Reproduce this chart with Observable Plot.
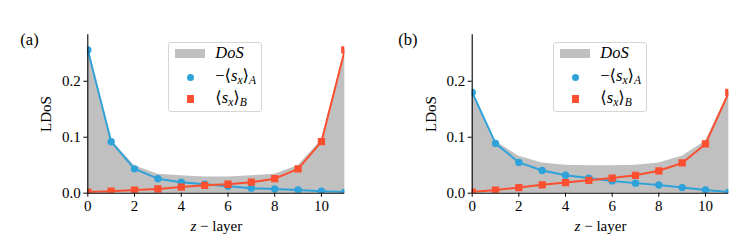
<!DOCTYPE html>
<html><head><meta charset="utf-8">
<script src="https://cdn.jsdelivr.net/npm/d3@7"></script>
<script src="https://cdn.jsdelivr.net/npm/@observablehq/plot@0.6"></script>
<style>
body{margin:0;background:#fff;}
#wrap{position:relative;width:747px;height:252px;font-family:"Liberation Serif","Times New Roman","DejaVu Serif",Times,serif;color:#000;}
.panel{position:absolute;top:0;}
.legend{position:absolute;top:42px;width:92px;height:68px;border:1px solid #d6d6d6;border-radius:3px;background:rgba(255,255,255,0.8);font-size:16.5px;}
.legend .sw{position:absolute;}
.legend .lab{position:absolute;left:46px;line-height:1;white-space:nowrap;}
.legend sub{font-size:70%;vertical-align:-0.25em;line-height:0;}
</style></head>
<body>
<div id="wrap"></div>
<script>
const layers = [0,1,2,3,4,5,6,7,8,9,10,11];
// panel (a)
const dosA  = [0.256,0.095,0.049,0.034,0.031,0.029,0.029,0.031,0.034,0.049,0.095,0.256];
const sxA_a = [0.256,0.092,0.0435,0.026,0.0197,0.016,0.0125,0.009,0.0075,0.0057,0.0036,0.002];
const sxB_a = [0.002,0.0036,0.0057,0.0075,0.011,0.014,0.016,0.0197,0.026,0.0435,0.092,0.256];
// panel (b)
const dosB  = [0.18,0.093,0.066,0.054,0.050,0.049,0.049,0.050,0.054,0.066,0.093,0.18];
const sxA_b = [0.18,0.089,0.055,0.0405,0.032,0.027,0.022,0.018,0.0146,0.010,0.0057,0.002];
const sxB_b = [0.002,0.0057,0.0101,0.0149,0.019,0.023,0.027,0.032,0.040,0.054,0.088,0.18];
const xTicks = [0,2,4,6,8,10];
const yTicks = [0,0.1,0.2];
const panelLabels = ["(a)","(b)"];

const BLUE = "#30a2da", RED = "#fc4f30", GRAY = "#c0c0c0";
const FONT = '"Liberation Serif", "Times New Roman", "DejaVu Serif", Times, serif';

function panel(dos, sa, sb, label, left, mLeft, mRight, labDx) {
  const data = layers.map((z,i)=>({z, dos:dos[i], a:sa[i], b:sb[i]}));
  const p = Plot.plot({
    width: 373, height: 252,
    marginLeft: mLeft, marginRight: mRight, marginTop: 34.3, marginBottom: 59.3,
    style: {fontFamily: FONT, fontSize: "15px", color: "#000", background: "transparent"},
    x: {domain: [0, 11]},
    y: {domain: [0, 0.283]},
    marks: [
      Plot.areaY(data, {x: "z", y: "dos", fill: GRAY}),
      Plot.line(data, {x: "z", y: "a", stroke: BLUE, strokeWidth: 2, clip: true}),
      Plot.dot(data, {x: "z", y: "a", fill: BLUE, r: 3.7, symbol: "circle", clip: true}),
      Plot.line(data, {x: "z", y: "b", stroke: RED, strokeWidth: 2, clip: true}),
      Plot.dot(data, {x: "z", y: "b", fill: RED, r: 4.1, symbol: "square", clip: true}),
      Plot.ruleX([0], {stroke: "#000", strokeWidth: 1.1}),
      Plot.ruleY([0], {stroke: "#000", strokeWidth: 1.1}),
      Plot.axisX({ticks: xTicks, tickSize: 4, tickPadding: 3, tickFormat: d3.format("d"),
        label: "z − layer", labelAnchor: "center", labelArrow: "none", labelOffset: 38}),
      Plot.axisY({ticks: yTicks, tickSize: 4, tickPadding: 3, tickFormat: d3.format(".1f"),
        label: "LDoS", labelAnchor: "center", labelArrow: "none", labelOffset: 47}),
      Plot.text([label], {frameAnchor: "top-left", dx: labDx, dy: -2, fontSize: 16.5, textAnchor: "middle"})
    ]
  });
  p.classList.add("panel");
  p.style.left = left + "px";
  p.querySelectorAll("text").forEach(t => {
    if (t.textContent === "z − layer") {
      t.textContent = "";
      const ns = "http://www.w3.org/2000/svg";
      const a = document.createElementNS(ns, "tspan"); a.setAttribute("font-style","italic"); a.textContent = "z";
      const b = document.createElementNS(ns, "tspan"); b.textContent = " − layer";
      t.appendChild(a); t.appendChild(b);
    }
  });
  return p;
}

const wrap = document.getElementById("wrap");
wrap.appendChild(panel(dosA, sxA_a, sxB_a, panelLabels[0], 0, 87.3, 28.7, -58.3));
wrap.appendChild(panel(dosB, sxA_b, sxB_b, panelLabels[1], 374, 97.7, 18.7, -64.3));

function legend(left) {
  const d = document.createElement("div");
  d.className = "legend";
  d.style.left = left + "px";
  d.innerHTML = `
    <div class="sw" style="left:6px;top:6px;width:30px;height:9px;background:${GRAY}"></div>
    <div class="sw" style="left:17.3px;top:30.7px;width:7.4px;height:7.4px;border-radius:50%;background:${BLUE}"></div>
    <div class="sw" style="left:17.4px;top:52.4px;width:7.3px;height:7.3px;background:${RED}"></div>
    <div class="lab" style="top:2px"><i>DoS</i></div>
    <div class="lab" style="top:25px">−⟨<i>s</i><sub><i>x</i></sub>⟩<sub><i>A</i></sub></div>
    <div class="lab" style="top:47px">⟨<i>s</i><sub><i>x</i></sub>⟩<sub><i>B</i></sub></div>`;
  wrap.appendChild(d);
}
legend(168.3);
legend(553.3);
</script>
</body></html>
